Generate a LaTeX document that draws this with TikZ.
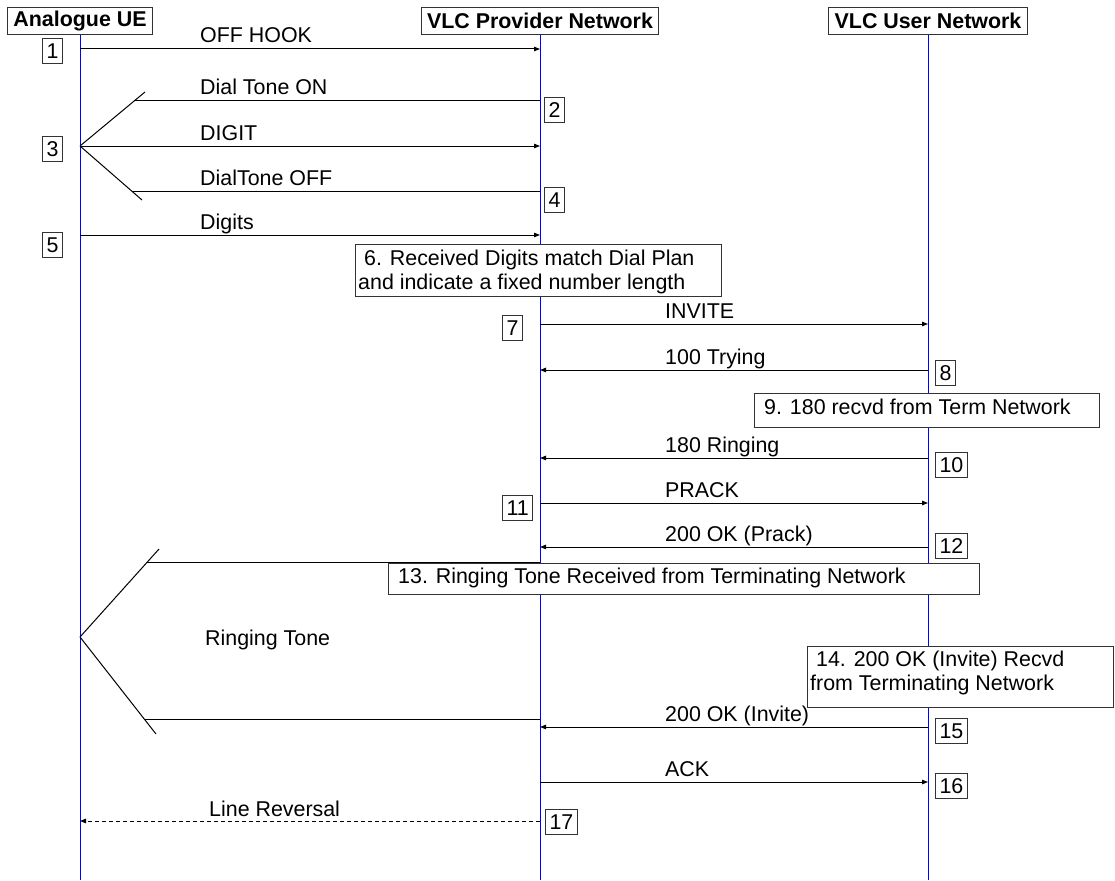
\documentclass[tikz,border=0pt]{standalone}
\usepackage{fontspec}
\setmainfont{Liberation Sans}
\usetikzlibrary{arrows.meta}
\begin{document}
\begin{tikzpicture}[x=1pt,y=-1pt,
  every node/.style={font=\fontsize{21.4}{24}\selectfont},
  actor/.style={draw=black!80, line width=1pt, font=\fontsize{21.4}{24}\selectfont\bfseries,
    inner xsep=6pt, inner ysep=0pt, minimum height=27pt, anchor=south},
  life/.style={draw=blue, line width=1pt},
  msg/.style={draw=black, line width=1pt, -{Triangle[length=6pt,width=4.5pt]}},
  reply/.style={msg, dash pattern=on 4pt off 3pt},
  tone/.style={draw=black, line width=1pt},
  lbl/.style={anchor=base west, inner sep=0pt},
  numbox/.style={draw=black!80, fill=white, line width=1pt, inner xsep=4pt, inner ysep=0pt,
    minimum height=25pt, text height=15pt, text depth=0pt, anchor=west},
  notebox/.style={draw=black!80, fill=white, line width=1pt, anchor=north west, inner sep=0pt},
  notetext/.style={anchor=north west, inner sep=0pt, align=left},
]
\useasboundingbox (0,0) rectangle (1115,880);

% ---- participants and lifelines ----
\node[actor] (hA) at (80,35) {Analogue UE};
\node[actor] (hP) at (540,35) {VLC Provider Network};
\node[actor] (hU) at (928,35) {VLC User Network};
\coordinate (endA) at (80,880);
\coordinate (endP) at (540,880);
\coordinate (endU) at (928,880);
\draw[life] (hA.south) -- (endA);
\draw[life] (hP.south) -- (endP);
\draw[life] (hU.south) -- (endU);

% ---- 1: off hook ----
\coordinate (A1) at (80,49);  \coordinate (P1) at (540,49);
\draw[msg] (A1) -- (P1);
\node[lbl] (l1) at (200,43) {OFF HOOK};
\node[numbox] (n1) at (42,51) {1};

% ---- 2..4: dial tone and first digit ----
\coordinate (T3) at (80,146);
\coordinate (T3up) at (145,92);
\coordinate (T3dn) at (142,200);
\draw[tone] (T3) -- (T3up);
\draw[tone] (T3) -- (T3dn);
\coordinate (P2) at (540,101); \coordinate (W2) at (134.2,101);
\draw[tone] (P2) -- (W2);
\node[lbl] (l2) at (200,95) {Dial Tone ON};
\node[numbox] (n2) at (544,110) {2};

\coordinate (P3) at (540,146);
\draw[msg] (T3) -- (P3);
\node[lbl] (l3) at (200,140) {DIGIT};
\node[numbox] (n3) at (42,149) {3};

\coordinate (P4) at (540,191); \coordinate (W4) at (131.7,191);
\draw[tone] (P4) -- (W4);
\node[lbl] (l4) at (200,185) {DialTone OFF};
\node[numbox] (n4) at (544,200) {4};

% ---- 5: remaining digits ----
\coordinate (A5) at (80,235); \coordinate (P5) at (540,235);
\draw[msg] (A5) -- (P5);
\node[lbl] (l5) at (200,229) {Digits};
\node[numbox] (n5) at (42,245) {5};

% ---- 6: dial plan note ----
\node[notebox, minimum width=366pt, minimum height=52pt] (b6) at (355,244) {};
\node[notetext] (t6) at (358,250) {\ 6. Received Digits match Dial Plan\\and indicate a fixed number length};

% ---- 7..8: INVITE / 100 Trying ----
\coordinate (P7) at (540,324); \coordinate (U7) at (928,324);
\draw[msg] (P7) -- (U7);
\node[lbl] (l7) at (665,318) {INVITE};
\node[numbox] (n7) at (502,328) {7};

\coordinate (U8) at (928,370); \coordinate (P8) at (540,370);
\draw[msg] (U8) -- (P8);
\node[lbl] (l8) at (665,364) {100 Trying};
\node[numbox] (n8) at (935,373) {8};

% ---- 9: 180 note ----
\node[notebox, minimum width=345pt, minimum height=34pt] (b9) at (754,393) {};
\node[lbl] (t9) at (764,414) {9. 180 recvd from Term Network};

% ---- 10..12: 180 Ringing / PRACK / 200 OK ----
\coordinate (U10) at (928,458); \coordinate (P10) at (540,458);
\draw[msg] (U10) -- (P10);
\node[lbl] (l10) at (665,452) {180 Ringing};
\node[numbox] (n10) at (935,465) {10};

\coordinate (P11) at (540,503); \coordinate (U11) at (928,503);
\draw[msg] (P11) -- (U11);
\node[lbl] (l11) at (665,497) {PRACK};
\node[numbox] (n11) at (502,508) {11};

\coordinate (U12) at (928,547); \coordinate (P12) at (540,547);
\draw[msg] (U12) -- (P12);
\node[lbl] (l12) at (665,541) {200 OK (Prack)};
\node[numbox] (n12) at (935,546) {12};

% ---- ringing tone towards the analogue UE ----
\coordinate (R) at (80,637);
\coordinate (Rup) at (159,549);
\coordinate (Rdn) at (156,734);
\draw[tone] (R) -- (Rup);
\draw[tone] (R) -- (Rdn);
\coordinate (PRa) at (540,562); \coordinate (WRa) at (147.3,562);
\draw[tone] (PRa) -- (WRa);
\coordinate (PRb) at (540,719); \coordinate (WRb) at (144.2,719);
\draw[tone] (PRb) -- (WRb);
\node[lbl] (lR) at (205,645) {Ringing Tone};

% ---- 13: ringing tone note ----
\node[notebox, minimum width=591pt, minimum height=31pt] (b13) at (388,562.5) {};
\node[lbl] (t13) at (398,583) {13. Ringing Tone Received from Terminating Network};

% ---- 14: 200 OK note ----
\node[notebox, minimum width=306pt, minimum height=61pt] (b14) at (807,646) {};
\node[notetext] (t14) at (810,651) {\ 14. 200 OK (Invite) Recvd\\from Terminating Network};

% ---- 15..16: 200 OK (Invite) / ACK ----
\coordinate (U15) at (928,727); \coordinate (P15) at (540,727);
\draw[msg] (U15) -- (P15);
\node[lbl] (l15) at (665,721) {200 OK (Invite)};
\node[numbox] (n15) at (935,731) {15};

\coordinate (P16) at (540,782); \coordinate (U16) at (928,782);
\draw[msg] (P16) -- (U16);
\node[lbl] (l16) at (665,776) {ACK};
\node[numbox] (n16) at (935,786) {16};

% ---- 17: line reversal ----
\coordinate (P17) at (540,821); \coordinate (A17) at (80,821);
\draw[reply] (P17) -- (A17);
\node[lbl] (l17) at (209,816) {Line Reversal};
\node[numbox] (n17) at (545,822) {17};
\end{tikzpicture}
\end{document}
